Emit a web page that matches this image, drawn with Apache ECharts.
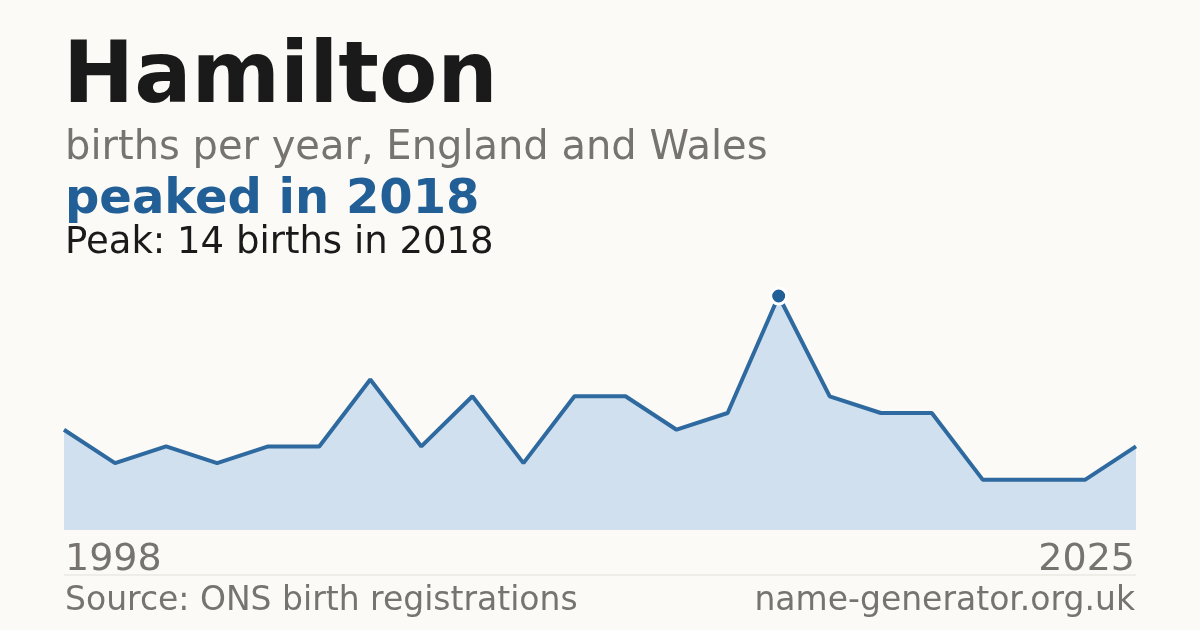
<!DOCTYPE html>
<html><head><meta charset="utf-8">
<script src="https://cdn.jsdelivr.net/npm/echarts@6/dist/echarts.min.js"></script>
<style>html,body{margin:0;background:#fbfaf6;}#c{width:1200px;height:630px;}</style>
</head><body><div id="c"></div>
<script>
var years = ['1998','2005','2006','2007','2008','2009','2010','2011','2012','2013','2014','2015','2016','2017','2018','2019','2020','2021','2022','2023','2024','2025'];
var births = [6,4,5,4,5,5,9,5,8,4,8,8,6,7,14,8,7,7,3,3,3,5];
var peakIndex = 14;
var chart = echarts.init(document.getElementById('c'));
var F = 'DejaVu Sans';
chart.setOption({
  backgroundColor: '#fbfaf6',
  animation: false,
  grid: {left: 64, right: 64, top: 296, bottom: 100},
  title: [
    {text: 'Hamilton', left: 58, top: 32, textStyle: {fontFamily: F, fontSize: 85, fontWeight: 'bold', color: '#1a1a1a'}},
    {text: 'births per year, England and Wales', left: 60, top: 124, textStyle: {fontFamily: F, fontSize: 40, fontWeight: 'normal', color: '#77746f'}},
    {text: 'peaked in 2018', left: 60, top: 172, textStyle: {fontFamily: F, fontSize: 48, fontWeight: 'bold', color: '#225f96'}},
    {text: 'Peak: 14 births in 2018', left: 60, top: 220, textStyle: {fontFamily: F, fontSize: 37, fontWeight: 'normal', color: '#1a1a1a'}},
    {text: years[0], left: 60, top: 536, textStyle: {fontFamily: F, fontSize: 38, fontWeight: 'normal', color: '#77746f'}},
    {text: years[years.length-1], right: 60, top: 536, textStyle: {fontFamily: F, fontSize: 38, fontWeight: 'normal', color: '#77746f'}},
    {text: 'Source: ONS birth registrations', left: 60, top: 580, textStyle: {fontFamily: F, fontSize: 33, fontWeight: 'normal', color: '#77746f'}},
    {text: 'name-generator.org.uk', right: 60, top: 580, textStyle: {fontFamily: F, fontSize: 33, fontWeight: 'normal', color: '#77746f'}}
  ],
  graphic: [{type: 'line', shape: {x1: 64, y1: 575, x2: 1136, y2: 575}, style: {stroke: '#e2e0da', lineWidth: 1}}],
  xAxis: {type: 'category', data: years, boundaryGap: false, show: false},
  yAxis: {type: 'value', min: 0, max: 14, show: false},
  series: [{
    type: 'line', data: births, symbol: 'none',
    lineStyle: {color: '#2e6aa0', width: 4},
    areaStyle: {color: '#d0e0ef', opacity: 1},
    markPoint: {
      symbol: 'circle', symbolSize: 16,
      itemStyle: {color: '#225f96', borderColor: '#ffffff', borderWidth: 3},
      label: {show: false},
      data: [{coord: [peakIndex, births[peakIndex]]}]
    }
  }]
});
</script></body></html>
